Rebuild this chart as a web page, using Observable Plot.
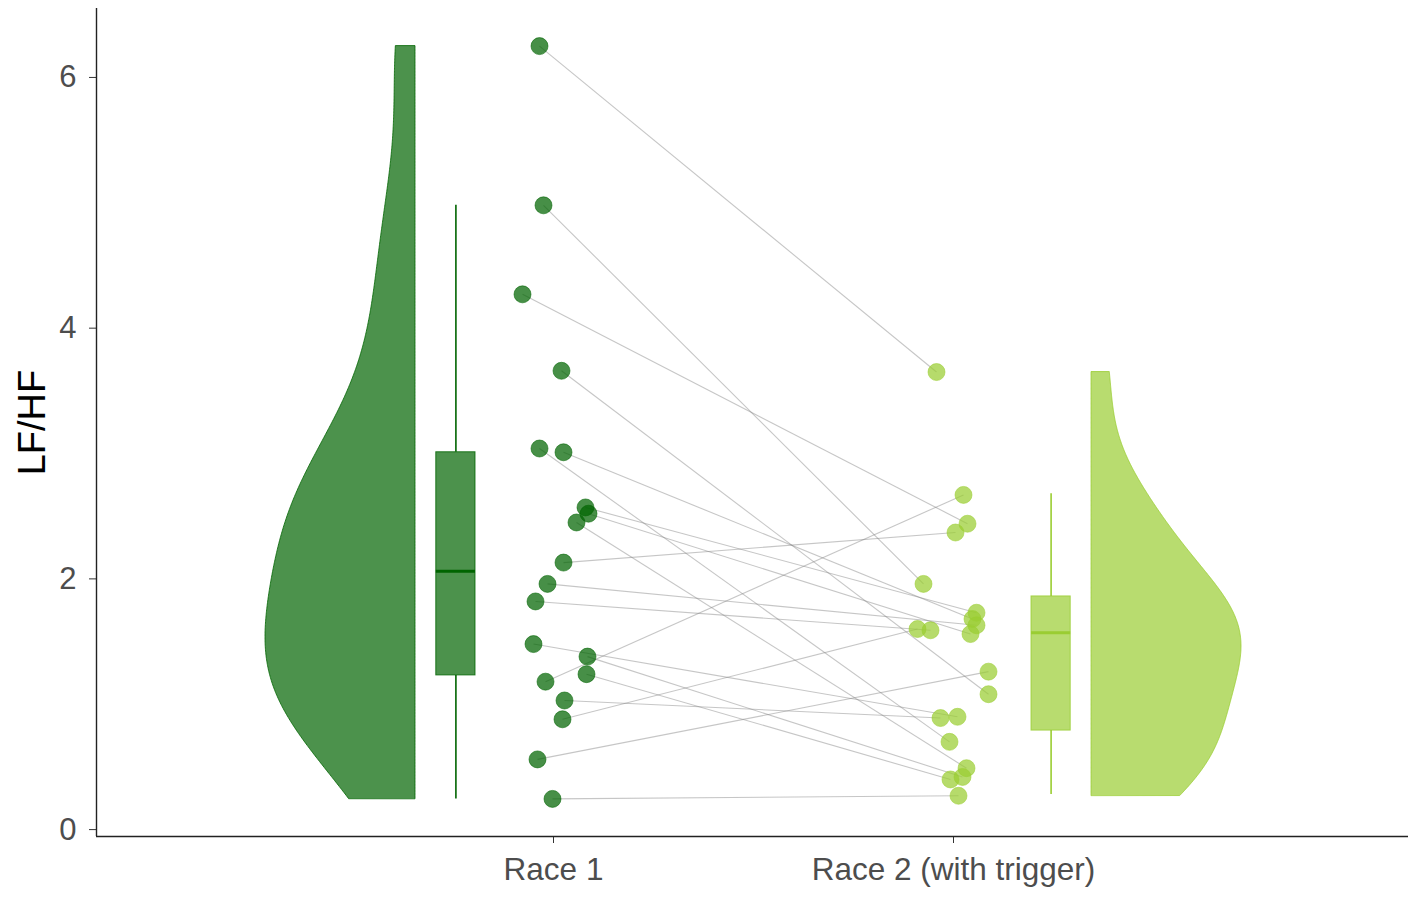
<!DOCTYPE html>
<html>
<head>
<meta charset="utf-8">
<script src="https://cdn.jsdelivr.net/npm/d3@7"></script>
<script src="https://cdn.jsdelivr.net/npm/@observablehq/plot@0.6"></script>
<style>
  html, body { margin: 0; padding: 0; background: #fff; }
  #chart { width: 1417px; height: 899px; }
  svg { display: block; }
</style>
</head>
<body>
<div id="chart"></div>
<script>
// ---------- data ----------
const categories = ["Race 1", "Race 2 (with trigger)"];
const colors = ["#006400", "#9ACD32"];

// paired LF/HF values, same participant at the same index
const race1 = [6.25, 4.98, 4.27, 3.66, 3.04, 3.01, 2.57, 2.52, 2.45, 2.13,
               1.96, 1.82, 1.48, 1.38, 1.24, 1.18, 1.03, 0.88, 0.56, 0.245];
const race2 = [3.65, 1.96, 2.44, 1.08, 0.70, 1.68, 1.73, 1.56, 0.49, 2.37,
               1.63, 1.59, 0.90, 0.42, 0.40, 2.67, 0.89, 1.60, 1.26, 0.27];

// horizontal jitter of each dot (in category units)
const jitter1 = [-0.035, -0.025, -0.0775, 0.02, -0.035, 0.025, 0.08, 0.0875, 0.0575, 0.025,
                 -0.015, -0.045, -0.05, 0.085, 0.0825, -0.02, 0.0275, 0.0225, -0.04, -0.0025];
const jitter2 = [-0.0425, -0.075, 0.035, 0.0875, -0.01, 0.0475, 0.0575, 0.0425, 0.0325, 0.005,
                 0.0575, -0.0575, 0.01, 0.0225, -0.0075, 0.025, -0.0325, -0.09, 0.0875, 0.0125];

// box-plot summaries: lower whisker, Q1, median, Q3, upper whisker
const boxLo  = [0.245, 0.28];
const boxQ1  = [1.23, 0.79];
const boxMed = [2.06, 1.57];
const boxQ3  = [3.01, 1.86];
const boxHi  = [4.98, 2.68];

// kernel bandwidths of the two density clouds (matched to the picture)
const bandwidths = [0.6, 0.46];

const yTicks = [0, 2, 4, 6];

// ---------- derived tables ----------
const pos = [1, 2];
const links = race1.map((v, i) => ({
  x1: pos[0] + jitter1[i], y1: v,
  x2: pos[1] + jitter2[i], y2: race2[i]
}));
const dots = [
  ...race1.map((v, i) => ({x: pos[0] + jitter1[i], y: v, g: 0})),
  ...race2.map((v, i) => ({x: pos[1] + jitter2[i], y: v, g: 1}))
];

// half-violin densities (gaussian KDE, trimmed to data range)
function kde(values, bw, n = 512) {
  const [lo, hi] = d3.extent(values);
  const out = [];
  for (let k = 0; k < n; k++) {
    const y = lo + (hi - lo) * k / (n - 1);
    let d = 0;
    for (const v of values) { const z = (y - v) / bw; d += Math.exp(-0.5 * z * z); }
    out.push({y, d: d / (values.length * bw * Math.sqrt(2 * Math.PI))});
  }
  const m = d3.max(out, o => o.d);
  out.forEach(o => o.r = o.d / m);
  return out;
}
const violinOffset = 0.345, violinWidth = 0.375;
const v1 = kde(race1, bandwidths[0]).map(o => ({y: o.y, xa: pos[0] - violinOffset, xb: pos[0] - violinOffset - violinWidth * o.r}));
const v2 = kde(race2, bandwidths[1]).map(o => ({y: o.y, xa: pos[1] + violinOffset, xb: pos[1] + violinOffset + violinWidth * o.r}));

const boxOffset = 0.244, boxHalf = 0.049;
const boxes = pos.map((p, i) => {
  const c = p + (i === 0 ? -boxOffset : boxOffset);
  return {c, x1: c - boxHalf, x2: c + boxHalf, lo: boxLo[i], q1: boxQ1[i], med: boxMed[i], q3: boxQ3[i], hi: boxHi[i], g: i};
});

const xDomain = [-0.1425, 3.1375];
const yDomain = [-0.055, 6.55];

const chart = Plot.plot({
  width: 1417,
  height: 899,
  marginLeft: 96,
  marginRight: 9,
  marginTop: 8,
  marginBottom: 63,
  style: {fontFamily: "'Liberation Sans', Arial, sans-serif", background: "#fff"},
  x: {domain: xDomain},
  y: {domain: yDomain},
  marks: [
    // violins
    Plot.areaX(v1, {y: "y", x1: "xa", x2: "xb", fill: colors[0], fillOpacity: 0.7, stroke: colors[0], strokeWidth: 1, strokeOpacity: 0.8}),
    Plot.areaX(v2, {y: "y", x1: "xa", x2: "xb", fill: colors[1], fillOpacity: 0.7, stroke: colors[1], strokeWidth: 1, strokeOpacity: 0.8}),
    // box plots
    Plot.ruleX(boxes, {x: "c", y1: "lo", y2: "q1", stroke: d => colors[d.g], strokeWidth: 1.6}),
    Plot.ruleX(boxes, {x: "c", y1: "q3", y2: "hi", stroke: d => colors[d.g], strokeWidth: 1.6}),
    Plot.rect(boxes, {x1: "x1", x2: "x2", y1: "q1", y2: "q3", fill: d => colors[d.g], fillOpacity: 0.7, stroke: d => colors[d.g], strokeOpacity: 0.8, strokeWidth: 1}),
    Plot.ruleY(boxes, {y: "med", x1: "x1", x2: "x2", stroke: d => colors[d.g], strokeWidth: 3}),
    // paired lines
    Plot.link(links, {x1: "x1", y1: "y1", x2: "x2", y2: "y2", stroke: "#808080", strokeOpacity: 0.45, strokeWidth: 1.1}),
    // dots
    Plot.dot(dots, {x: "x", y: "y", r: 8.5, fill: d => colors[d.g], fillOpacity: 0.72, stroke: d => colors[d.g], strokeOpacity: 0.55, strokeWidth: 1}),
    // axes
    Plot.axisY({ticks: yTicks, tickFormat: d => String(d), tickSize: 7, tickPadding: 13, fontSize: 31, fill: "#4d4d4d", stroke: "#333", label: null}),
    Plot.axisX({ticks: pos, tickFormat: d => categories[d - 1], tickSize: 7, tickPadding: 14, fontSize: 31.5, fill: "#4d4d4d", stroke: "#333", label: null}),
    Plot.ruleX([xDomain[0]], {stroke: "#222", strokeWidth: 1.4}),
    Plot.ruleY([yDomain[0]], {stroke: "#222", strokeWidth: 1.4}),
    Plot.text(["LF/HF"], {frameAnchor: "left", dx: -64, rotate: -90, textAnchor: "middle", fontSize: 38, fill: "#000"})
  ]
});
document.getElementById("chart").appendChild(chart);
</script>
</body>
</html>
